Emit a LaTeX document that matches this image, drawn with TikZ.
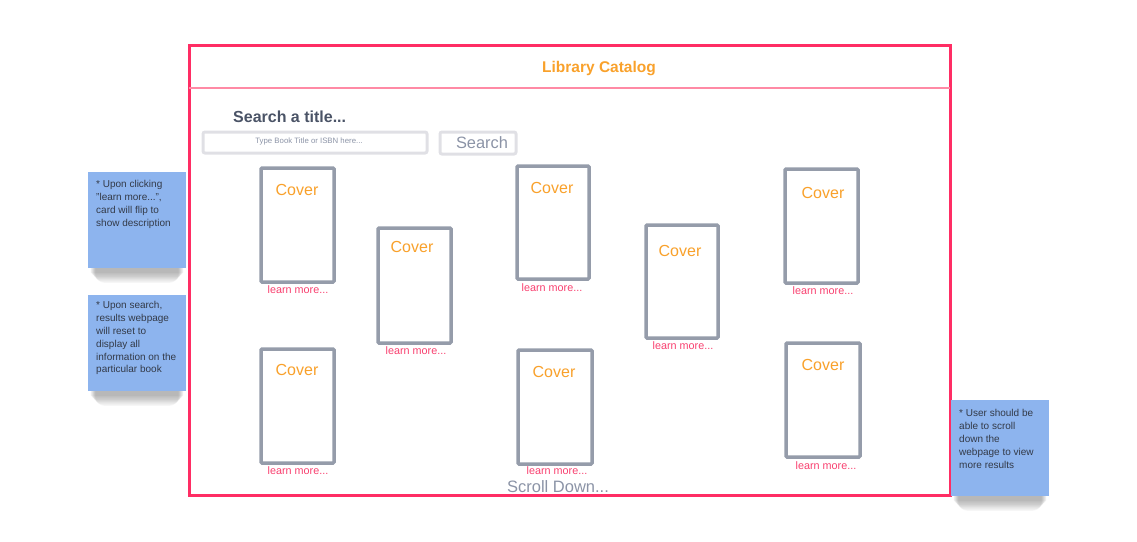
\documentclass[tikz,border=0pt]{standalone}
\usepackage{fontspec}
\setmainfont{Liberation Sans}
\definecolor{framered}{RGB}{255,45,100}
\definecolor{headerpink}{RGB}{255,138,165}
\definecolor{cardgray}{RGB}{149,156,170}
\definecolor{coverorange}{RGB}{249,161,43}
\definecolor{learnpink}{RGB}{248,64,111}
\definecolor{titledark}{RGB}{74,83,102}
\definecolor{fieldgray}{RGB}{224,224,229}
\definecolor{btntext}{RGB}{139,147,166}
\definecolor{stickyblue}{RGB}{141,180,238}
\definecolor{stickytext}{RGB}{51,58,72}
\begin{document}
\begin{tikzpicture}[x=1pt, y=-1pt,
    frame/.style = {draw=framered, line width=3pt, minimum width=761pt, minimum height=450pt, inner sep=0pt},
    card/.style = {draw=cardgray, line width=3.5pt, rounded corners=1pt, fill=white, inner sep=0pt},
    cover/.style = {text=coverorange, font=\fontsize{16}{19}\selectfont},
    learn/.style = {text=learnpink, font=\fontsize{10.8}{13}\selectfont},
    field/.style = {draw=fieldgray, line width=3pt, rounded corners=2pt, inner sep=0pt},
    sticky/.style = {fill=stickyblue, minimum width=98pt, minimum height=96pt, inner sep=0pt},
    softshadow/.style = {fill=black, opacity=.035},
    notetext/.style = {text=stickytext, align=left, inner sep=0pt, anchor=north west,
        font=\fontsize{10}{12.8}\selectfont}]
\useasboundingbox (0,0) rectangle (1137,541);
% page frame and header
\node[frame] (frame) at (569.5,270) {};
\draw[headerpink, line width=2.5pt] (189,88) -- (950,88);
\node[text=coverorange, font=\bfseries\fontsize{15.5}{18}\selectfont] (title) at (599,68.5) {Library Catalog};
% search bar
\node[text=titledark, font=\bfseries\fontsize{16}{19}\selectfont, anchor=west, inner sep=0pt] (searchlabel) at (233,117) {Search a title...};
\node[field, minimum width=224pt, minimum height=21pt] (searchfield) at (315,142.5) {};
\node[text=btntext, font=\fontsize{7.8}{9}\selectfont] (placeholder) at (309,141.5) {Type Book Title or ISBN here...};
\node[field, minimum width=76pt, minimum height=22pt] (searchbtn) at (478,143) {};
\node[text=btntext, font=\fontsize{16.4}{19}\selectfont] (searchtext) at (482,142.5) {Search};
% book cards
\node[card, minimum width=73pt, minimum height=114pt] (card1) at (297.5,225) {};
\node[card, minimum width=73pt, minimum height=115pt] (card2) at (414.5,285.5) {};
\node[card, minimum width=72pt, minimum height=113pt] (card3) at (553,222.5) {};
\node[card, minimum width=72pt, minimum height=113pt] (card4) at (682,281.5) {};
\node[card, minimum width=73pt, minimum height=114pt] (card5) at (821.5,226) {};
\node[card, minimum width=73pt, minimum height=114pt] (card6) at (297.5,406) {};
\node[card, minimum width=74pt, minimum height=114pt] (card7) at (555,407) {};
\node[card, minimum width=74pt, minimum height=114pt] (card8) at (823,400) {};
\node[cover] (cover1) at (297,190) {Cover};
\node[cover] (cover2) at (412,247) {Cover};
\node[cover] (cover3) at (552,188) {Cover};
\node[cover] (cover4) at (680,251) {Cover};
\node[cover] (cover5) at (823,193) {Cover};
\node[cover] (cover6) at (297,370) {Cover};
\node[cover] (cover7) at (554,372) {Cover};
\node[cover] (cover8) at (823,365) {Cover};
\node[learn] (learn1) at (298,289.5) {learn more...};
\node[learn] (learn2) at (416,350.5) {learn more...};
\node[learn] (learn3) at (552,287.5) {learn more...};
\node[learn] (learn4) at (683,345.5) {learn more...};
\node[learn] (learn5) at (823,290.5) {learn more...};
\node[learn] (learn6) at (298,470.5) {learn more...};
\node[learn] (learn7) at (557,470.5) {learn more...};
\node[learn] (learn8) at (826,465.5) {learn more...};
\node[text=btntext, font=\fontsize{16.5}{19}\selectfont] (scroll) at (558,486.5) {Scroll Down...};
% sticky notes (soft shadow first)
\foreach \n/\c in {note1/{137,220}, note2/{137,343}, note3/{1000,448}} {
  \coordinate (\n) at (\c);
  \foreach \s in {1,...,9}
    \fill[softshadow, rounded corners=\s pt] ([xshift=-47pt+0.6*\s pt, yshift=40pt-\s pt]\n) rectangle ([xshift=47pt-0.6*\s pt, yshift=-52pt-1.2*\s pt]\n);
}
\node[sticky] (note1) at (137,220) {};
\node[sticky] (note2) at (137,343) {};
\node[sticky] (note3) at (1000,448) {};
\node[notetext] (notetext1) at (96,180.5) {* Upon clicking\\"learn more...",\\card will flip to\\show description};
\node[notetext] (notetext2) at (96,301.5) {* Upon search,\\results webpage\\will reset to\\display all\\information on the\\particular book};
\node[notetext] (notetext3) at (959,409.5) {* User should be\\able to scroll\\down the\\webpage to view\\more results};
\end{tikzpicture}
\end{document}
